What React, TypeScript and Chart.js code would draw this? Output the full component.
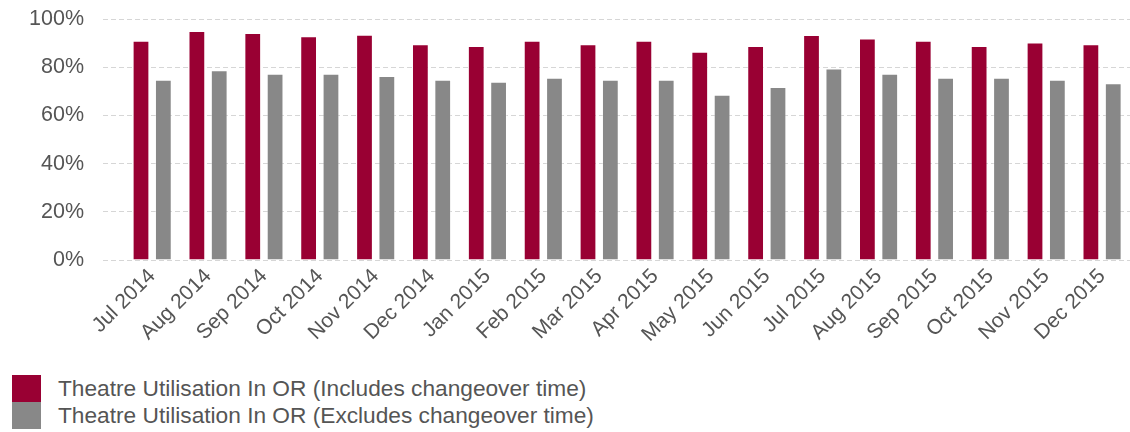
import { useEffect, useRef } from 'react';
import { Chart, registerables } from 'chart.js';

Chart.register(...registerables);

const months = [
  'Jul 2014', 'Aug 2014', 'Sep 2014', 'Oct 2014', 'Nov 2014', 'Dec 2014',
  'Jan 2015', 'Feb 2015', 'Mar 2015', 'Apr 2015', 'May 2015', 'Jun 2015',
  'Jul 2015', 'Aug 2015', 'Sep 2015', 'Oct 2015', 'Nov 2015', 'Dec 2015',
];

const includesChangeover = [
  91.0, 95.0, 94.2, 92.8, 93.5, 89.5, 88.8, 91.0, 89.5,
  91.0, 86.4, 88.8, 93.4, 91.9, 91.0, 88.8, 90.3, 89.5,
];

const excludesChangeover = [
  74.8, 78.7, 77.3, 77.3, 76.3, 74.8, 74.0, 75.6, 74.8,
  74.8, 68.6, 71.8, 79.5, 77.3, 75.6, 75.6, 74.8, 73.3,
];

const yTickValues = [0, 20, 40, 60, 80, 100];

const seriesNames = [
  'Theatre Utilisation In OR (Includes changeover time)',
  'Theatre Utilisation In OR (Excludes changeover time)',
];

const RED = '#990033';
const GREY = '#888888';
const TEXT = '#555555';
const FONT = "'Liberation Sans', Arial, sans-serif";

export default function App() {
  const ref = useRef<HTMLCanvasElement>(null);

  useEffect(() => {
    document.body.style.margin = '0';
    const canvas = ref.current;
    if (!canvas) return;
    const chart = new Chart(canvas, {
      type: 'bar',
      data: {
        datasets: [
          {
            label: seriesNames[0],
            data: includesChangeover.map((v, i) => ({ x: i, y: v })),
            backgroundColor: RED,
            borderColor: 'rgba(255,255,255,0.35)',
            borderWidth: 1,
            categoryPercentage: 0.8,
            barPercentage: 0.75,
          },
          {
            label: seriesNames[1],
            data: excludesChangeover.map((v, i) => ({ x: i, y: v })),
            backgroundColor: GREY,
            borderColor: 'rgba(255,255,255,0.35)',
            borderWidth: 1,
            categoryPercentage: 0.8,
            barPercentage: 0.75,
          },
        ],
      },
      options: {
        animation: false,
        responsive: false,
        maintainAspectRatio: false,
        layout: { padding: { top: 19, left: 0, right: 0, bottom: 0 } },
        plugins: {
          legend: { display: false },
          tooltip: { enabled: false },
        },
        scales: {
          x: {
            type: 'linear',
            offset: false,
            min: -0.88,
            max: 17.5,
            grid: { display: false, drawTicks: false, offset: false },
            border: { display: false },
            afterBuildTicks: (s: any) => {
              s.ticks = months.map((_, i) => ({ value: i }));
            },
            afterFit: (s: any) => {
              s.height = 105;
              s.paddingLeft = 0;
              s.paddingRight = 0;
            },
            ticks: {
              autoSkip: false,
              maxRotation: 45,
              minRotation: 45,
              padding: 4,
              color: TEXT,
              font: { family: FONT, size: 21 },
              callback: (v: any) => months[v as number] ?? '',
            },
          },
          y: {
            min: 0,
            max: 100,
            afterBuildTicks: (s: any) => {
              s.ticks = yTickValues.map((v) => ({ value: v }));
            },
            afterFit: (s: any) => {
              s.width = 103;
              s.paddingTop = 0;
              s.paddingBottom = 0;
            },
            grid: { color: '#d6d6d6', drawTicks: false, lineWidth: 1 },
            border: { display: false, dash: [5, 3] },
            ticks: {
              padding: 19,
              color: TEXT,
              font: { family: FONT, size: 21.5 },
              callback: (v: any) => v + '%',
            },
          },
        },
      },
    });
    return () => chart.destroy();
  }, []);

  const colors = [RED, GREY];

  return (
    <div style={{ position: 'relative', width: 1130, height: 432, background: '#fff', overflow: 'hidden' }}>
      <canvas ref={ref} width={1130} height={365} style={{ display: 'block', width: 1130, height: 365 }} />
      <div
        style={{
          position: 'absolute',
          left: 12,
          top: 375,
          fontFamily: FONT,
          fontSize: 22.7,
          color: TEXT,
        }}
      >
        {seriesNames.map((name, i) => (
          <div key={name} style={{ display: 'flex', alignItems: 'center', height: 27, lineHeight: '27px' }}>
            <span style={{ display: 'inline-block', width: 29, height: 27, background: colors[i] }} />
            <span style={{ marginLeft: 17, whiteSpace: 'nowrap' }}>{name}</span>
          </div>
        ))}
      </div>
    </div>
  );
}
